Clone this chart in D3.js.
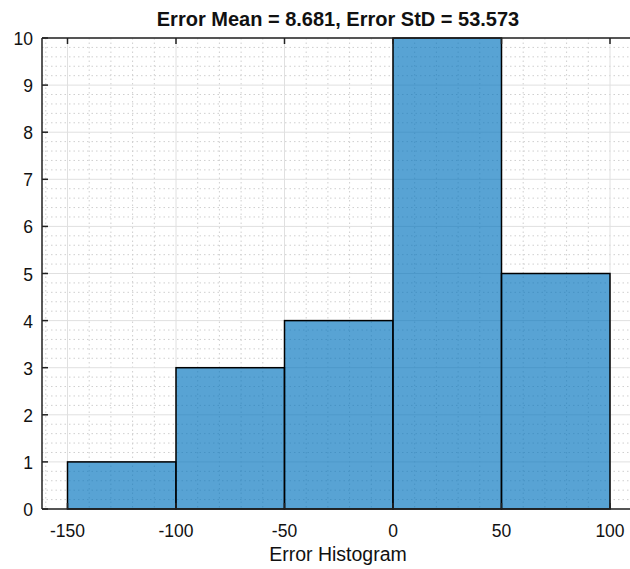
<!DOCTYPE html>
<html>
<head>
<meta charset="utf-8">
<script src="https://cdn.jsdelivr.net/npm/d3@7"></script>
<style>
  html, body { margin: 0; padding: 0; background: #fff; }
  svg { display: block; font-family: "Liberation Sans", Arial, sans-serif; }
</style>
</head>
<body>
<div id="chart"></div>
<script>
// histogram data
const binEdges = [-150, -100, -50, 0, 50, 100];
const counts = [1, 3, 4, 10, 5];
const xTicks = [-150, -100, -50, 0, 50, 100];
const yTicks = [0, 1, 2, 3, 4, 5, 6, 7, 8, 9, 10];
const titleText = "Error Mean = 8.681, Error StD = 53.573";
const xLabelText = "Error Histogram";

const width = 630, height = 569;
const plotL = 42, plotT = 38, plotB = 509, plotR = 645; // right edge cut off

const svg = d3.select("#chart").append("svg")
    .attr("width", width)
    .attr("height", height);

const x = d3.scaleLinear().domain([-150, 100]).range([67.5, 610]);
const y = d3.scaleLinear().domain([0, 10]).range([plotB, plotT]);

// minor grid
const g = svg.append("g");
const minorX = d3.range(-160, 120, 10).filter(v => v % 50 !== 0 && x(v) > plotL && x(v) < plotR);
g.selectAll(".mx").data(minorX).join("line")
    .attr("x1", d => x(d)).attr("x2", d => x(d))
    .attr("y1", plotT).attr("y2", plotB)
    .attr("stroke", "#cfcfcf").attr("stroke-width", 1)
    .attr("stroke-dasharray", "1.5,3");
const minorY = d3.range(0, 10.01, 0.2).filter(v => Math.abs(v - Math.round(v)) > 0.01);
g.selectAll(".my").data(minorY).join("line")
    .attr("x1", plotL).attr("x2", plotR)
    .attr("y1", d => y(d)).attr("y2", d => y(d))
    .attr("stroke", "#cfcfcf").attr("stroke-width", 1)
    .attr("stroke-dasharray", "1.5,3");

// major grid
g.selectAll(".gx").data(xTicks).join("line")
    .attr("x1", d => x(d)).attr("x2", d => x(d))
    .attr("y1", plotT).attr("y2", plotB)
    .attr("stroke", "#e0e0e0").attr("stroke-width", 1);
g.selectAll(".gy").data(yTicks).join("line")
    .attr("x1", plotL).attr("x2", plotR)
    .attr("y1", d => y(d)).attr("y2", d => y(d))
    .attr("stroke", "#e0e0e0").attr("stroke-width", 1);

// bars
const bins = counts.map((c, i) => ({ x0: binEdges[i], x1: binEdges[i + 1], n: c }));
svg.append("g").selectAll("rect").data(bins).join("rect")
    .attr("x", d => x(d.x0))
    .attr("y", d => y(d.n))
    .attr("width", d => x(d.x1) - x(d.x0))
    .attr("height", d => y(0) - y(d.n))
    .attr("fill", "#0072BD")
    .attr("fill-opacity", 0.655)
    .attr("stroke", "#000")
    .attr("stroke-width", 1.5);

// axes box
const axis = svg.append("g").attr("stroke", "#222").attr("stroke-width", 1.5);
axis.append("line").attr("x1", plotL).attr("x2", plotR).attr("y1", plotB).attr("y2", plotB);
axis.append("line").attr("x1", plotL).attr("x2", plotR).attr("y1", plotT).attr("y2", plotT);
axis.append("line").attr("x1", plotL).attr("x2", plotL).attr("y1", plotT).attr("y2", plotB);

// ticks (inward)
const tk = 6;
axis.selectAll(".tb").data(xTicks).join("line")
    .attr("x1", d => x(d)).attr("x2", d => x(d))
    .attr("y1", plotB).attr("y2", plotB - tk);
axis.selectAll(".tt").data(xTicks).join("line")
    .attr("x1", d => x(d)).attr("x2", d => x(d))
    .attr("y1", plotT).attr("y2", plotT + tk);
axis.selectAll(".tl").data(yTicks).join("line")
    .attr("x1", plotL).attr("x2", plotL + tk)
    .attr("y1", d => y(d)).attr("y2", d => y(d));

// tick labels
svg.append("g").selectAll("text").data(xTicks).join("text")
    .attr("x", d => x(d))
    .attr("y", 537)
    .attr("text-anchor", "middle")
    .attr("font-size", 17.5)
    .attr("fill", "#111")
    .text(d => d);
svg.append("g").selectAll("text").data(yTicks).join("text")
    .attr("x", 33)
    .attr("y", d => y(d) + 7)
    .attr("text-anchor", "end")
    .attr("font-size", 17.5)
    .attr("fill", "#111")
    .text(d => d);

// title and label
svg.append("text")
    .attr("x", 338).attr("y", 26)
    .attr("text-anchor", "middle")
    .attr("font-size", 20)
    .attr("font-weight", "bold")
    .attr("fill", "#111")
    .text(titleText);
svg.append("text")
    .attr("x", 338).attr("y", 561)
    .attr("text-anchor", "middle")
    .attr("font-size", 19.5)
    .attr("fill", "#111")
    .text(xLabelText);
</script>
</body>
</html>
